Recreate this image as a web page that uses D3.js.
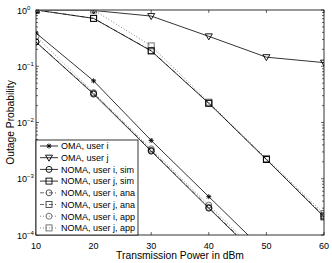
<!DOCTYPE html>
<html>
<head>
<meta charset="utf-8">
<script src="https://cdn.jsdelivr.net/npm/d3@7"></script>
<style>
  body { margin: 0; background: #fff; }
  text { font-family: "Liberation Sans", Arial, sans-serif; fill: #000; }
</style>
</head>
<body>
<svg id="chart"></svg>
<script>
// data
const power = [10, 20, 30, 40, 50, 60];
const omaUserI  = [0.39, 0.055, 0.0048, 4.8e-4, 4.8e-5, 4.8e-6];
const omaUserJ  = [0.99, 0.98, 0.78, 0.34, 0.145, 0.116];
const nomaISim  = [0.27, 0.032, 0.0031, 3.0e-4, 3.0e-5, 3.0e-6];
const nomaJSim  = [1.0, 0.71, 0.187, 0.022, 0.0022, 0.00021];
const nomaIAna  = [0.27, 0.033, 0.0032, 3.1e-4, 3.1e-5, 3.1e-6];
const nomaJAna  = [1.0, 0.71, 0.19, 0.022, 0.0022, 0.00022];
const nomaIApp  = [0.34, 0.034, 0.0034, 3.4e-4, 3.4e-5, 3.4e-6];
const nomaJApp  = [1.0, 1.0, 0.23, 0.023, 0.0023, 0.00024];
const xTicks = [10, 20, 30, 40, 50, 60];
const yTicks = [1, 1e-1, 1e-2, 1e-3, 1e-4];
const yTickExp = ["0", "\u22121", "\u22122", "\u22123", "\u22124"];
const seriesNames = ["OMA, user i", "OMA, user j", "NOMA, user i, sim", "NOMA, user j, sim",
  "NOMA, user i, ana", "NOMA, user j, ana", "NOMA, user i, app", "NOMA, user j, app"];

const series = [
  { name: seriesNames[0], values: omaUserI, marker: "star",  dash: null, color: "#000" },
  { name: seriesNames[1], values: omaUserJ, marker: "tri",   dash: null, color: "#000" },
  { name: seriesNames[2], values: nomaISim, marker: "circle", dash: null, color: "#000" },
  { name: seriesNames[3], values: nomaJSim, marker: "square", dash: null, color: "#000" },
  { name: seriesNames[4], values: nomaIAna, marker: "circle", dash: "4,2,1,2", color: "#444" },
  { name: seriesNames[5], values: nomaJAna, marker: "square", dash: "4,2,1,2", color: "#444" },
  { name: seriesNames[6], values: nomaIApp, marker: "circle", dash: "1,2", color: "#666" },
  { name: seriesNames[7], values: nomaJApp, marker: "square", dash: "1,2", color: "#666" }
];

const W = 332, H = 263;
const margin = { top: 10, right: 8, bottom: 28, left: 36 };
const width = W - margin.left - margin.right;
const height = H - margin.top - margin.bottom;

const svg = d3.select("#chart").attr("width", W).attr("height", H);
svg.append("rect").attr("width", W).attr("height", H).attr("fill", "#fff");

const x = d3.scaleLinear().domain([10, 60]).range([0, width]);
const y = d3.scaleLog().domain([1e-4, 1]).range([height, 0]);

const chart = svg.append("g").attr("transform", "translate(" + margin.left + "," + margin.top + ")");

svg.append("defs").append("clipPath").attr("id", "clip")
  .append("rect").attr("x", 0).attr("y", 0).attr("width", width).attr("height", height);

// marker drawing
function drawMarker(g, type, cx, cy, color) {
  const s = 3;
  if (type === "circle") {
    g.append("circle").attr("cx", cx).attr("cy", cy).attr("r", s)
      .attr("fill", "none").attr("stroke", color).attr("stroke-width", 0.9);
  } else if (type === "square") {
    g.append("rect").attr("x", cx - s).attr("y", cy - s).attr("width", 2 * s).attr("height", 2 * s)
      .attr("fill", "none").attr("stroke", color).attr("stroke-width", 0.9);
  } else if (type === "tri") {
    g.append("path").attr("d", "M" + (cx - s - 0.5) + "," + (cy - s + 0.5) + "L" + (cx + s + 0.5) + "," + (cy - s + 0.5) + "L" + cx + "," + (cy + s + 0.5) + "Z")
      .attr("fill", "none").attr("stroke", color).attr("stroke-width", 0.9);
  } else if (type === "star") {
    const r = 2.5, d = 1.8;
    g.append("path").attr("d",
      "M" + (cx - r) + "," + cy + "L" + (cx + r) + "," + cy +
      "M" + cx + "," + (cy - r) + "L" + cx + "," + (cy + r) +
      "M" + (cx - d) + "," + (cy - d) + "L" + (cx + d) + "," + (cy + d) +
      "M" + (cx - d) + "," + (cy + d) + "L" + (cx + d) + "," + (cy - d))
      .attr("stroke", color).attr("stroke-width", 0.9);
  }
}

// lines
const plot = chart.append("g").attr("clip-path", "url(#clip)");
const line = d3.line().x((d, i) => x(power[i])).y(d => y(d));
series.slice().reverse().forEach(s => {
  plot.append("path")
    .datum(s.values)
    .attr("d", line)
    .attr("fill", "none")
    .attr("stroke", s.color)
    .attr("stroke-width", 0.8)
    .attr("stroke-dasharray", s.dash);
  s.values.forEach((v, i) => {
    if (v >= 1e-4 * 0.98) drawMarker(plot, s.marker, x(power[i]), y(v), s.color);
  });
});

// box and ticks (matlab style, inward)
chart.append("rect").attr("width", width).attr("height", height)
  .attr("fill", "none").attr("stroke", "#000").attr("stroke-width", 0.8);
chart.append("line").attr("x1", 0).attr("x2", width).attr("y1", 0).attr("y2", 0)
  .attr("stroke", "#999").attr("stroke-width", 1);

const tickG = chart.append("g").attr("stroke", "#000").attr("stroke-width", 0.6);
xTicks.forEach(t => {
  tickG.append("line").attr("x1", x(t)).attr("x2", x(t)).attr("y1", height).attr("y2", height - 3);
  tickG.append("line").attr("x1", x(t)).attr("x2", x(t)).attr("y1", 0).attr("y2", 3);
});
yTicks.forEach(t => {
  tickG.append("line").attr("x1", 0).attr("x2", 3).attr("y1", y(t)).attr("y2", y(t));
  tickG.append("line").attr("x1", width).attr("x2", width - 3).attr("y1", y(t)).attr("y2", y(t));
});
for (let e = -4; e < 0; e++) {
  for (let m = 2; m <= 9; m++) {
    const v = m * Math.pow(10, e);
    tickG.append("line").attr("x1", 0).attr("x2", 2).attr("y1", y(v)).attr("y2", y(v));
    tickG.append("line").attr("x1", width).attr("x2", width - 2).attr("y1", y(v)).attr("y2", y(v));
  }
}

// tick labels
chart.selectAll(".xl").data(xTicks).enter().append("text")
  .attr("x", d => x(d)).attr("y", height + 13.5)
  .attr("text-anchor", "middle").attr("font-size", 9).text(d => d);

const yl = chart.selectAll(".yl").data(yTicks).enter().append("text")
  .attr("x", -19).attr("y", d => y(d) + 3.5)
  .attr("text-anchor", "start").attr("font-size", 9);
yl.append("tspan").text("10");
yl.append("tspan").attr("dy", -4).attr("font-size", 6).text((d, i) => yTickExp[i]);

// axis labels
svg.append("text").attr("x", margin.left + width / 2).attr("y", 258.5)
  .attr("text-anchor", "middle").attr("font-size", 10.3).text("Transmission Power in dBm");
svg.append("text").attr("transform", "translate(13.5," + (margin.top + height / 2) + ") rotate(-90)")
  .attr("text-anchor", "middle").attr("font-size", 10.3).text("Outage Probability");

// legend
const lg = chart.append("g");
const lgTop = 130, lgW = 102, rowH = 11.7;
lg.append("rect").attr("x", 0).attr("y", lgTop).attr("width", lgW).attr("height", height - lgTop)
  .attr("fill", "#fff").attr("stroke", "#000").attr("stroke-width", 0.8);
series.forEach((s, i) => {
  const cy = lgTop + 6 + i * rowH;
  lg.append("line").attr("x1", 4).attr("x2", 22).attr("y1", cy).attr("y2", cy)
    .attr("stroke", s.color).attr("stroke-width", 0.8).attr("stroke-dasharray", s.dash);
  drawMarker(lg, s.marker, 13, cy, s.color);
  lg.append("text").attr("x", 25).attr("y", cy + 3.3).attr("font-size", 9).text(s.name);
});
</script>
</body>
</html>
